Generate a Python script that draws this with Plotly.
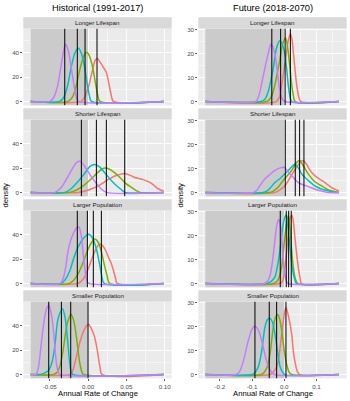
import plotly.graph_objects as go

W, H = 350, 401
COLORS = ["#F8766D", "#7CAE00", "#00BFC4", "#C77CFF"]
FACETS = ["Longer Lifespan", "Shorter Lifespan", "Larger Population", "Smaller Population"]
COL_TITLES = ["Historical (1991-2017)", "Future (2018-2070)"]
X_TITLE = "Annual Rate of Change"
Y_TITLE = "density"

# data extent of the density estimates (x)
HIST_EXTENT = [-0.075, 0.099]
FUT_EXTENT = [-0.245, 0.170]

# tick labels
HIST_XTICKS = [-0.05, 0.0, 0.05, 0.10]
HIST_XTICKTEXT = ["-0.05", "0.00", "0.05", "0.10"]
FUT_XTICKS = [-0.2, -0.1, 0.0, 0.1]
FUT_XTICKTEXT = ["-0.2", "-0.1", "0.0", "0.1"]
HIST_YTICKS = [0, 20, 40]
FUT_YTICKS = [0, 10, 20, 30]

# ---------------- Historical ----------------
hist_longer_red = ([-0.009, -0.004, 0.001, 0.006, 0.0095, 0.0121, 0.016, 0.020, 0.024, 0.028, 0.031, 0.033],
                   [0, 4, 13, 26, 34, 35.3, 32, 28, 23.6, 12, 3, 0])
hist_longer_green = ([-0.026, -0.020, -0.015, -0.010, -0.005, -0.0017, 0.002, 0.006, 0.010, 0.013, 0.0155],
                     [0, 4, 14, 28, 38, 40.3, 37, 28, 14, 4, 0])
hist_longer_cyan = ([-0.037, -0.032, -0.027, -0.022, -0.017, -0.0125, -0.009, -0.005, -0.001, 0.002, 0.0045],
                    [0, 3, 12, 28, 40, 43.6, 40, 30, 14, 4, 0])
hist_longer_purple = ([-0.050, -0.045, -0.040, -0.035, -0.031, -0.029, -0.026, -0.022, -0.018, -0.015, -0.012],
                      [0, 3, 12, 30, 44, 47, 42, 28, 12, 3, 0])
hist_longer_means = [-0.0304, -0.0140, -0.0039, 0.0117]

hist_shorter_red = ([-0.013, -0.005, 0.005, 0.015, 0.025, 0.035, 0.043, 0.048, 0.055, 0.060, 0.066, 0.072, 0.078, 0.085, 0.090, 0.095, 0.099],
                    [0, 1, 3, 6, 10, 13.5, 15, 15.5, 14, 12.5, 11.5, 10.5, 9, 6.4, 3.5, 2, 1])
hist_shorter_green = ([-0.024, -0.015, -0.005, 0.004, 0.012, 0.018, 0.0225, 0.028, 0.035, 0.042, 0.050, 0.057, 0.063, 0.068],
                      [0, 2, 6, 11, 16, 19, 20, 19, 16, 12, 7, 4, 1.5, 0])
hist_shorter_cyan = ([-0.030, -0.022, -0.013, -0.004, 0.003, 0.009, 0.015, 0.022, 0.030, 0.038, 0.045, 0.048],
                     [0, 3, 9, 16, 21.5, 23, 21, 16, 10, 5, 1.5, 0])
hist_shorter_purple = ([-0.043, -0.035, -0.028, -0.020, -0.014, -0.010, -0.005, 0.002, 0.010, 0.017, 0.024],
                       [0, 4, 11, 20, 25, 25.5, 22, 15, 8, 3, 0])
hist_shorter_means = [-0.0087, 0.0109, 0.0239, 0.0479]

hist_larger_red = ([-0.013, -0.007, -0.001, 0.005, 0.010, 0.015, 0.019, 0.023, 0.027, 0.030, 0.033, 0.036, 0.038],
                   [0, 3, 10, 20, 28, 32.3, 31, 27, 21, 17, 11, 4, 0])
hist_larger_green = ([-0.024, -0.018, -0.012, -0.006, 0.000, 0.005, 0.009, 0.013, 0.017, 0.021, 0.025, 0.028],
                     [0, 3, 9, 18, 28, 34, 36.5, 34, 27, 16, 6, 0])
hist_larger_cyan = ([-0.035, -0.030, -0.024, -0.018, -0.012, -0.006, 0.001, 0.006, 0.011, 0.015, 0.018, 0.021],
                    [0, 3, 10, 22, 31, 37, 40.3, 37, 28, 16, 6, 0])
hist_larger_purple = ([-0.036, -0.032, -0.029, -0.0257, -0.020, -0.0155, -0.012, -0.009, -0.006, -0.003, -0.001, 0.001],
                      [0, 5, 14, 28, 40, 45, 46.5, 40, 22, 7, 1.5, 0])
hist_larger_means = [-0.0140, -0.0009, 0.0069, 0.0174]

hist_smaller_red = ([-0.023, -0.020, -0.017, -0.0135, -0.0104, -0.006, -0.002, 0.001, 0.004, 0.008, 0.0113, 0.014, 0.0157, 0.018],
                    [0, 3, 10, 19, 27, 35, 40, 41, 38, 32, 22.6, 12, 5.7, 0])
hist_smaller_green = ([-0.045, -0.040, -0.0366, -0.033, -0.030, -0.027, -0.0225, -0.019, -0.015, -0.011, -0.008, -0.006],
                      [0, 2, 7, 18, 31, 42, 49.5, 45, 30, 10, 2, 0])
hist_smaller_cyan = ([-0.062, -0.057, -0.052, -0.047, -0.043, -0.040, -0.037, -0.0335, -0.030, -0.027, -0.024, -0.022, -0.020],
                     [0, 1, 3, 10, 25, 43, 50, 54, 47, 30, 10, 2, 0])
hist_smaller_purple = ([-0.068, -0.065, -0.063, -0.0587, -0.055, -0.0513, -0.048, -0.045, -0.0413, -0.039, -0.037],
                       [0, 5, 14, 38, 52, 57, 50, 35, 9, 2, 0])
hist_smaller_means = [-0.0513, -0.0348, -0.0226, 0.0]

# ---------------- Future ----------------
fut_longer_red = ([-0.025, -0.015, -0.008, 0.002, 0.0124, 0.019, 0.024, 0.028, 0.033, 0.0385, 0.045, 0.052],
                  [0, 2, 7, 15.5, 25.4, 28.3, 26, 21, 14, 7, 2, 0])
fut_longer_green = ([-0.055, -0.045, -0.037, -0.029, -0.020, -0.0134, -0.005, 0.004, 0.010, 0.0177, 0.024, 0.028, 0.034],
                    [0, 1, 3, 7, 13, 17.7, 24, 26.5, 23, 14, 6, 2.8, 0])
fut_longer_cyan = ([-0.072, -0.060, -0.0497, -0.040, -0.034, -0.0236, -0.013, -0.004, 0.002, 0.008, 0.0124, 0.018, 0.024],
                   [0, 1, 4.2, 10, 14, 22.6, 25.5, 23, 19.8, 13, 7, 2, 0])
fut_longer_purple = ([-0.090, -0.083, -0.0755, -0.068, -0.060, -0.050, -0.041, -0.036, -0.029, -0.020, -0.0134, -0.006, 0.002],
                     [0, 1, 4.2, 9, 14, 20, 24, 23, 19.8, 11, 4.2, 1, 0])
fut_longer_means = [-0.0386, -0.0112, 0.0027, 0.019]

fut_shorter_red = ([-0.030, -0.015, 0.000, 0.0124, 0.026, 0.0385, 0.050, 0.058, 0.068, 0.085, 0.105, 0.126, 0.145, 0.160, 0.170],
                   [0, 1, 2.5, 4.9, 8, 10.5, 12.8, 13.4, 12, 8.4, 6, 4.2, 2.3, 1.2, 0.7])
fut_shorter_green = ([-0.045, -0.030, -0.015, -0.008, 0.008, 0.023, 0.038, 0.048, 0.060, 0.0745, 0.095, 0.116, 0.140, 0.160, 0.170],
                     [0, 1, 2.8, 4.2, 6.8, 9.2, 12.5, 13.4, 11, 7.8, 4.5, 2.8, 1, 0.3, 0])
fut_shorter_cyan = ([-0.065, -0.050, -0.029, -0.012, 0.002, 0.018, 0.033, 0.045, 0.054, 0.075, 0.095, 0.115, 0.137, 0.160],
                    [0, 1, 4.2, 6, 7.8, 10, 11.8, 10, 7.8, 5, 2.8, 1.5, 0.7, 0])
fut_shorter_purple = ([-0.095, -0.085, -0.075, -0.061, -0.045, -0.030, -0.015, 0.000, 0.013, 0.027, 0.045, 0.075, 0.100, 0.120, 0.140],
                      [0, 1, 3, 5.6, 7.5, 9.2, 10.2, 10.5, 8.5, 6.5, 4, 2.5, 1.2, 0.5, 0])
fut_shorter_means = [0.0031, 0.0342, 0.0478, 0.0612]

fut_larger_red = ([-0.014, -0.005, 0.002, 0.008, 0.0124, 0.018, 0.024, 0.029, 0.033, 0.038, 0.0435, 0.049, 0.054],
                  [0, 1, 7, 14, 21, 27, 28.5, 25, 19.5, 13, 7, 2.5, 0])
fut_larger_green = ([-0.034, -0.022, -0.015, -0.008, -0.003, 0.002, 0.008, 0.013, 0.018, 0.023, 0.028, 0.033, 0.037, 0.042],
                    [0, 1, 3, 7, 13, 19.5, 26, 28.5, 23, 14, 7, 2.8, 1, 0])
fut_larger_cyan = ([-0.055, -0.040, -0.029, -0.020, -0.0134, -0.003, 0.005, 0.011, 0.0177, 0.023, 0.028, 0.033, 0.038],
                   [0, 1, 2.8, 8, 14, 25, 28.6, 24, 15.3, 8.5, 4.2, 1.5, 0])
fut_larger_purple = ([-0.062, -0.052, -0.045, -0.039, -0.034, -0.029, -0.022, -0.017, -0.010, -0.003, 0.003, 0.0075, 0.012],
                     [0, 1, 3, 7, 12, 18, 25, 26.8, 22, 9.8, 3, 0.7, 0])
fut_larger_means = [-0.0124, 0.0062, 0.0137, 0.0217]

fut_smaller_red = ([-0.045, -0.035, -0.026, -0.0186, -0.008, 0.000, 0.0055, 0.012, 0.023, 0.028, 0.033, 0.040, 0.048],
                   [0, 1, 2.5, 5.6, 17, 25, 28, 25, 17, 10, 5.6, 1.5, 0])
fut_smaller_green = ([-0.072, -0.062, -0.052, -0.0444, -0.034, -0.027, -0.020, -0.014, -0.008, 0.000, 0.0075, 0.015, 0.023],
                     [0, 1, 3.5, 8.5, 19.8, 24, 25.1, 23, 18.4, 10, 4.2, 1, 0])
fut_smaller_cyan = ([-0.100, -0.090, -0.080, -0.070, -0.060, -0.052, -0.045, -0.037, -0.029, -0.020, -0.0134, -0.005, 0.002],
                    [0, 1, 3.5, 9.9, 19.8, 23, 23.5, 22, 17, 9, 3.5, 1, 0])
fut_smaller_purple = ([-0.150, -0.140, -0.127, -0.112, -0.100, -0.091, -0.080, -0.070, -0.0547, -0.042, -0.030],
                      [0, 1, 5.6, 14.1, 19, 20.2, 18.5, 14.1, 5.6, 1.5, 0])
fut_smaller_means = [-0.091, -0.0466, -0.0236, 0.0053]

HIST_PANELS = [
    ([hist_longer_red, hist_longer_green, hist_longer_cyan, hist_longer_purple], hist_longer_means),
    ([hist_shorter_red, hist_shorter_green, hist_shorter_cyan, hist_shorter_purple], hist_shorter_means),
    ([hist_larger_red, hist_larger_green, hist_larger_cyan, hist_larger_purple], hist_larger_means),
    ([hist_smaller_red, hist_smaller_green, hist_smaller_cyan, hist_smaller_purple], hist_smaller_means),
]
FUT_PANELS = [
    ([fut_longer_red, fut_longer_green, fut_longer_cyan, fut_longer_purple], fut_longer_means),
    ([fut_shorter_red, fut_shorter_green, fut_shorter_cyan, fut_shorter_purple], fut_shorter_means),
    ([fut_larger_red, fut_larger_green, fut_larger_cyan, fut_larger_purple], fut_larger_means),
    ([fut_smaller_red, fut_smaller_green, fut_smaller_cyan, fut_smaller_purple], fut_smaller_means),
]

# ---------------- layout geometry (pixels) ----------------
COL_LEFT = [23.3, 198.3]
COL_RIGHT = [171.7, 346.7]
ROW_TOP = [17.3, 108.3, 199.3, 290.3]
STRIP_H = 11.2
PANEL_H = 76.9
XRANGES = [[-0.0845, 0.1092], [-0.267, 0.194]]
YRANGES = [[-3.3, 59.9], [-1.6, 30.5]]
FONT = "Liberation Sans, Arial, sans-serif"


def pad(xs, ys, lo, hi):
    X, Y = list(xs), list(ys)
    if X[0] > lo:
        X = [lo] + X
        Y = [0] + Y
    if X[-1] < hi:
        X = X + [hi]
        Y = Y + [0]
    return X, Y


fig = go.Figure()
layout = {}
shapes = []
annotations = []

for col, (panels, extent) in enumerate([(HIST_PANELS, HIST_EXTENT), (FUT_PANELS, FUT_EXTENT)]):
    yr = YRANGES[col]
    for row in range(4):
        n = col * 4 + row + 1
        xa = "x" if n == 1 else f"x{n}"
        ya = "y" if n == 1 else f"y{n}"
        series, means = panels[row]
        # shaded negative region (drawn first, under the curves, over the grid)
        fig.add_trace(go.Scatter(
            x=[extent[0], 0, 0, extent[0], extent[0]],
            y=[yr[0], yr[0], yr[1], yr[1], yr[0]],
            xaxis=xa, yaxis=ya, mode="lines", fill="toself",
            fillcolor="#CBCBCB", line=dict(width=0, color="#CBCBCB"),
            hoverinfo="skip", showlegend=False))
        for (xs, ys), color in zip(series, COLORS):
            X, Y = pad(xs, ys, extent[0], extent[1])
            fig.add_trace(go.Scatter(
                x=X, y=Y, xaxis=xa, yaxis=ya, mode="lines",
                line=dict(color=color, width=1.5, shape="spline", smoothing=0.8),
                hoverinfo="skip", showlegend=False))
        for m in means:
            fig.add_trace(go.Scatter(
                x=[m, m], y=[yr[0], yr[1]], xaxis=xa, yaxis=ya, mode="lines",
                line=dict(color="black", width=1),
                hoverinfo="skip", showlegend=False))
        ptop = ROW_TOP[row] + STRIP_H
        pbot = ptop + PANEL_H
        xdom = [COL_LEFT[col] / W, COL_RIGHT[col] / W]
        ydom = [1 - pbot / H, 1 - ptop / H]
        bottom = row == 3
        if col == 0:
            xt, xtt = HIST_XTICKS, HIST_XTICKTEXT
            xminor = [-0.075, -0.025, 0.025, 0.075]
            yt = HIST_YTICKS
            yminor = [10, 30, 50]
        else:
            xt, xtt = FUT_XTICKS, FUT_XTICKTEXT
            xminor = [-0.25, -0.15, -0.05, 0.05, 0.15]
            yt = FUT_YTICKS
            yminor = [5, 15, 25]
        layout["xaxis" if n == 1 else f"xaxis{n}"] = dict(
            domain=xdom, anchor=ya, range=XRANGES[col],
            tickmode="array", tickvals=xt, ticktext=xtt,
            showticklabels=bottom, ticks="outside" if bottom else "",
            ticklen=2, tickwidth=0.8, tickcolor="#333333",
            tickfont=dict(family=FONT, size=6.2, color="#4D4D4D"),
            showgrid=True, gridcolor="white", gridwidth=0.9,
            minor=dict(tickmode="array", tickvals=xminor, showgrid=True,
                       gridcolor="white", gridwidth=0.45, ticks=""),
            zeroline=False, showline=False, fixedrange=True, automargin=False)
        layout["yaxis" if n == 1 else f"yaxis{n}"] = dict(
            domain=ydom, anchor=xa, range=yr,
            tickmode="array", tickvals=yt,
            ticks="outside", ticklen=2, tickwidth=0.8, tickcolor="#333333",
            tickfont=dict(family=FONT, size=6.2, color="#4D4D4D"),
            showgrid=True, gridcolor="white", gridwidth=0.9,
            minor=dict(tickmode="array", tickvals=yminor, showgrid=True,
                       gridcolor="white", gridwidth=0.45, ticks=""),
            zeroline=False, showline=False, fixedrange=True, automargin=False)
        # strip
        shapes.append(dict(type="rect", xref="paper", yref="paper",
                           x0=xdom[0], x1=xdom[1],
                           y0=1 - (ROW_TOP[row] + STRIP_H) / H, y1=1 - ROW_TOP[row] / H,
                           fillcolor="#D9D9D9", line=dict(width=0), layer="below"))
        annotations.append(dict(xref="paper", yref="paper",
                                x=(xdom[0] + xdom[1]) / 2,
                                y=1 - (ROW_TOP[row] + STRIP_H / 2) / H,
                                text=FACETS[row], showarrow=False,
                                xanchor="center", yanchor="middle",
                                font=dict(family=FONT, size=6.2, color="#1A1A1A")))
    cx = (COL_LEFT[col] + COL_RIGHT[col]) / 2 / W
    annotations.append(dict(xref="paper", yref="paper", x=cx, y=1 - 8.3 / H,
                            text=COL_TITLES[col], showarrow=False,
                            xanchor="center", yanchor="middle",
                            font=dict(family=FONT, size=9.3, color="black")))
    annotations.append(dict(xref="paper", yref="paper", x=cx, y=1 - 393.3 / H,
                            text=X_TITLE, showarrow=False,
                            xanchor="center", yanchor="middle",
                            font=dict(family=FONT, size=7.7, color="black")))
    annotations.append(dict(xref="paper", yref="paper",
                            x=(4.5 if col == 0 else 179.5) / W, y=1 - 195 / H,
                            text=Y_TITLE, showarrow=False, textangle=-90,
                            xanchor="center", yanchor="middle",
                            font=dict(family=FONT, size=7.7, color="black")))

fig.update_layout(
    width=W, height=H, margin=dict(l=0, r=0, t=0, b=0, autoexpand=False),
    paper_bgcolor="white", plot_bgcolor="#EBEBEB",
    shapes=shapes, annotations=annotations, showlegend=False,
    hovermode=False, dragmode=False,
    **layout)

fig.write_html(
    "out.html",
    config={"displayModeBar": False, "staticPlot": True},
    post_script="document.body.style.margin='0px';document.body.style.padding='0px';"
                "document.body.style.overflow='hidden';")
